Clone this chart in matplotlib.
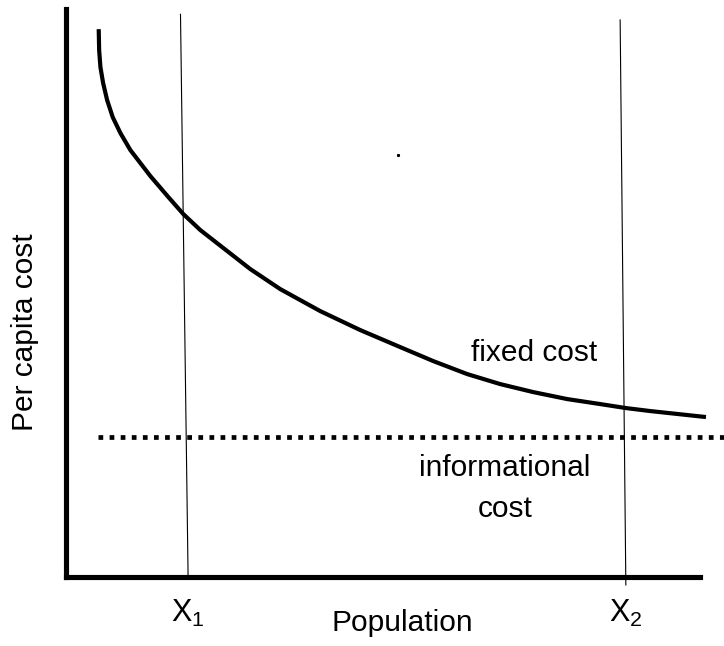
import matplotlib
matplotlib.use("Agg")
import matplotlib.pyplot as plt

plt.rcParams['font.family'] = ['Liberation Sans', 'DejaVu Sans']
plt.rcParams['mathtext.fontset'] = 'custom'
plt.rcParams['mathtext.rm'] = 'Liberation Sans'

# fixed cost curve (population, per capita cost)
fixed_x = [5.09, 5.16, 5.36, 5.79, 6.42, 7.30, 8.52, 10.09, 11.67, 13.25,
           16.09, 18.45, 21.14, 29.02, 33.75, 40.06, 46.37, 52.68, 57.89,
           63.25, 68.45, 73.66, 79.02, 84.23, 88.33, 92.11, 100.95]
fixed_y = [96.48, 92.78, 89.79, 86.97, 83.98, 80.99, 78.17, 75.18, 72.89,
           70.60, 66.90, 63.91, 61.09, 54.23, 50.70, 46.83, 43.49, 40.49,
           38.03, 35.74, 33.98, 32.57, 31.34, 30.46, 29.75, 29.23, 28.17]

# informational cost (flat)
info_x = [4.9, 104.1]
info_y = [24.6, 24.6]

# reference populations X1, X2 (slightly slanted as in the original)
x1_line = ([18.0, 19.2], [99.1, 0.0])
x2_line = ([87.4, 88.3], [98.1, -1.4])
tick_pos = [19.2, 88.3]
tick_labels = [r'$\mathrm{X}_1$', r'$\mathrm{X}_2$']

fig = plt.figure(figsize=(7.24, 6.46), dpi=100)
ax = fig.add_axes([0.0918, 0.1068, 0.875, 0.879])
ax.set_xlim(0, 100)
ax.set_ylim(0, 100)

for side in ['top', 'right']:
    ax.spines[side].set_visible(False)
for side in ['left', 'bottom']:
    ax.spines[side].set_linewidth(3.7)
    ax.spines[side].set_capstyle('projecting')

ax.plot(fixed_x, fixed_y, color='black', lw=3.0, clip_on=False,
        solid_capstyle='butt', solid_joinstyle='round')
ax.plot(info_x, info_y, color='black', lw=3.4, clip_on=False,
        linestyle=(0, (1, 1.35)), dash_capstyle='butt')
ax.plot(*x1_line, color='black', lw=0.8, clip_on=False)
ax.plot(*x2_line, color='black', lw=0.8, clip_on=False)

# stray dot in the original
ax.plot([52.4], [74.3], 's', color='black', ms=1.2, clip_on=False)

ax.set_xticks(tick_pos)
ax.set_xticklabels(tick_labels, fontsize=22)
ax.tick_params(axis='x', length=0, pad=15)
ax.set_yticks([])

ax.text(73.8, 39.4, 'fixed cost', fontsize=21.5, ha='center', va='center')
ax.text(69.2, 15.6, 'informational\ncost', fontsize=21.5, ha='center',
        va='center', linespacing=1.6)

fig.text(402 / 724, 1 - 623 / 646, 'Population', fontsize=21.5,
         ha='center', va='center')
fig.text(25 / 724, 1 - 332 / 646, 'Per capita cost', fontsize=21.5,
         ha='center', va='center', rotation=90)

fig.savefig('out.png', dpi=100)
